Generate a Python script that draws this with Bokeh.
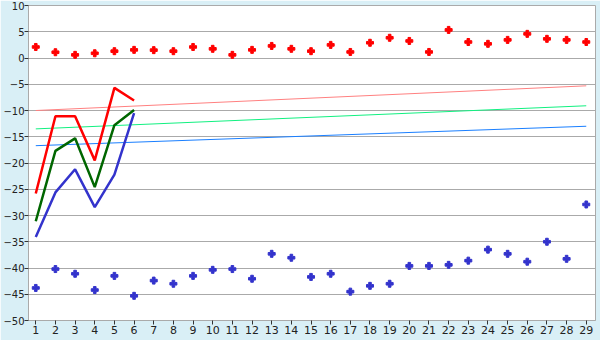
from bokeh.plotting import figure
from bokeh.models import Range1d, FixedTicker
from bokeh.embed import file_html
from bokeh.resources import INLINE

days = list(range(1, 30))
red_dots = [2.1, 1.1, 0.6, 0.9, 1.3, 1.55, 1.5, 1.3, 2.1, 1.75, 0.6, 1.55, 2.3, 1.75, 1.3, 2.5, 1.15, 2.9, 3.85,
            3.25, 1.15, 5.35, 3.05, 2.7, 3.45, 4.6, 3.65, 3.45, 3.05]
blue_dots = [-43.8, -40.2, -41.1, -44.2, -41.5, -45.3, -42.4, -43.0, -41.5, -40.35, -40.2, -42.05, -37.3, -38.05,
             -41.7, -41.1, -44.5, -43.4, -43.0, -39.6, -39.6, -39.4, -38.6, -36.5, -37.3, -38.8, -35.0, -38.25, -27.9]
line_days = [1, 2, 3, 4, 5, 6]
red_line = [-25.8, -11.1, -11.1, -19.5, -5.7, -8.1]
green_line = [-31.1, -17.7, -15.3, -24.6, -12.8, -9.9]
blue_line = [-34.1, -25.6, -21.2, -28.4, -22.2, -10.5]
trend_days = [1, 29]
pink_trend = [-10.0, -5.3]
lgreen_trend = [-13.5, -9.1]
lblue_trend = [-16.7, -13.0]
y_ticks = [10, 5, 0, -5, -10, -15, -20, -25, -30, -35, -40, -45, -50]

p = figure(width=600, height=340, output_backend="svg", toolbar_location=None,
           x_range=Range1d(0.63, 29.47), y_range=Range1d(-50, 10),
           min_border_left=0, min_border_right=5, min_border_top=5, min_border_bottom=20)
p.background_fill_color = "white"
p.border_fill_color = "#d9eff6"
p.outline_line_color = "#aaaaaa"
p.outline_line_width = 1

p.xgrid.grid_line_color = None
p.ygrid.grid_line_color = "#aaaaaa"
p.ygrid.ticker = FixedTicker(ticks=y_ticks)

for ax in (p.xaxis, p.yaxis):
    ax.axis_line_color = "#aaaaaa"
    ax.major_tick_line_color = "#333333"
    ax.minor_tick_line_color = None
    ax.major_tick_in = 0
    ax.major_tick_out = 4
    ax.major_label_text_font = "DejaVu Sans"
    ax.major_label_text_font_size = "11px"
    ax.major_label_text_color = "#222222"
    ax.major_label_standoff = 2
p.xaxis.ticker = FixedTicker(ticks=days)
p.yaxis.ticker = FixedTicker(ticks=y_ticks)
p.xaxis.major_label_standoff = 1
p.yaxis.major_label_text_font_size = "10px"
p.yaxis.major_label_standoff = 0

p.line(trend_days, pink_trend, line_color="#ff8080", line_width=1)
p.line(trend_days, lgreen_trend, line_color="#11f080", line_width=1)
p.line(trend_days, lblue_trend, line_color="#1a7fff", line_width=1)

p.line(line_days, red_line, line_color="#ff0000", line_width=2.5)
p.line(line_days, green_line, line_color="#006600", line_width=2.5)
p.line(line_days, blue_line, line_color="#3333cc", line_width=2.5)

p.scatter(days, red_dots, marker="plus", size=7, color="#ff0000")
p.scatter(days, blue_dots, marker="plus", size=7, color="#3333cc")

open("out.html", "w").write(file_html(p, INLINE))
